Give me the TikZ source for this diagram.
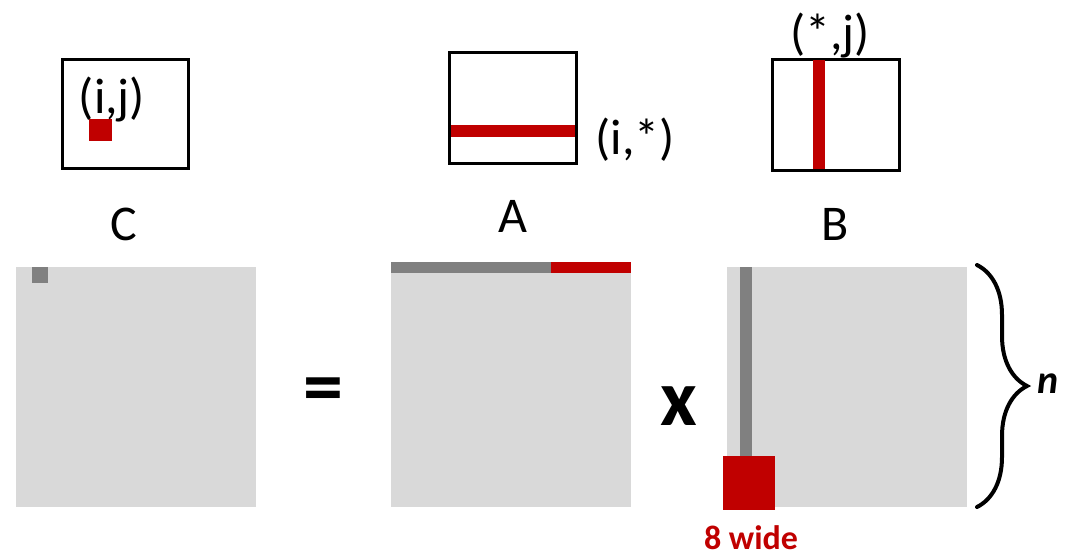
\documentclass[tikz,border=0pt]{standalone}
\usepackage{fontspec}
\setmainfont{Carlito}
\usetikzlibrary{decorations.pathreplacing}
\definecolor{dred}{HTML}{C00000}
\definecolor{lgray}{HTML}{D9D9D9}
\definecolor{mgray}{HTML}{808080}
\begin{document}
\begin{tikzpicture}[x=1pt,y=-1pt,
  smallbox/.style={draw=black, line width=3pt, fill=white, inner sep=0, outer sep=0, anchor=north west},
  matbox/.style={fill=lgray, draw=none, inner sep=0, outer sep=0, anchor=north west},
  blk/.style={inner sep=0, outer sep=0, anchor=north west},
  lbl/.style={inner sep=0, outer sep=0, font=\fontsize{50}{60}\selectfont},
  op/.style={inner sep=0, outer sep=0, font=\bfseries\fontsize{80}{90}\selectfont}]
\useasboundingbox (0,0) rectangle (1067,554);
% small boxes
\node[smallbox, minimum width=126, minimum height=109] (cs) at (62,59) {};
\node[blk, fill=dred, minimum width=23, minimum height=22] (csq) at (89,119) {};
\node[lbl] (cij) at (112,99) {(i,j)};
\node[smallbox, minimum width=127, minimum height=111] (as) at (449,52) {};
\node[blk, fill=dred, minimum width=124, minimum height=12] (arow) at (451,125) {};
\node[lbl] (ai) at (635,140) {(i,*)};
\node[smallbox, minimum width=127, minimum height=111] (bs) at (772,59) {};
\node[blk, fill=dred, minimum width=12, minimum height=109] (bcol) at (813,60) {};
\node[lbl] (bj) at (830,35) {(*,j)};
% labels
\node[lbl] (lc) at (124,224) {C};
\node[lbl] (la) at (513,216) {A};
\node[lbl] (lb) at (835,224) {B};
% big matrices
\node[matbox, minimum width=240, minimum height=240] (cm) at (16,267) {};
\node[blk, fill=mgray, minimum width=16, minimum height=16] (cel) at (32,267) {};
\node[matbox, minimum width=240, minimum height=245] (am) at (391,262) {};
\node[blk, fill=mgray, minimum width=160, minimum height=11] (agr) at (391,262) {};
\node[blk, fill=dred, minimum width=80, minimum height=11] (ard) at (551,262) {};
\node[matbox, minimum width=240, minimum height=240] (bm) at (727,267) {};
\node[blk, fill=mgray, minimum width=12, minimum height=190] (bgr) at (740,267) {};
\node[blk, fill=dred, minimum width=52, minimum height=54] (brd) at (723,456) {};
% operators
\node[op] (eq) at (323,396) {=};
\node[op] (times) at (679,406) {x};
\node[inner sep=0, text=dred, font=\bfseries\fontsize{34}{40}\selectfont] (wide) at (751,538) {8 wide};
% brace
\coordinate (bt) at (977,265);
\coordinate (bb) at (977,507);
\draw[line width=4pt, line cap=round, decorate, decoration={brace, amplitude=50pt, aspect=0.5}] (bt) -- (bb);
\node[inner sep=0, font=\bfseries\itshape\fontsize{40}{46}\selectfont] (n) at (1048,384) {n};
\end{tikzpicture}
\end{document}
